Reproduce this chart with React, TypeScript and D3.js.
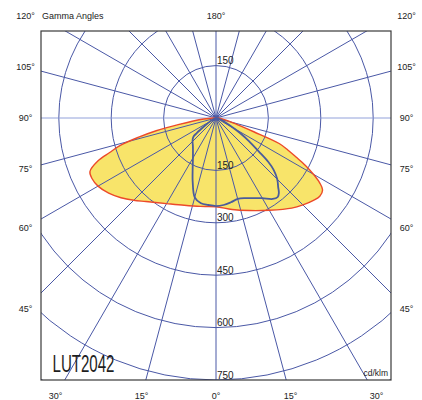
import React from "react";
import * as d3 from "d3";

// ---- data (cd/klm) ----
const yellowLeftGamma = [0, 10, 20, 30, 40, 45, 50, 55, 60, 64, 67, 70, 72, 74, 76, 78, 80, 85, 90];
const yellowLeftValue = [254, 257, 266, 283, 312, 333, 355, 375, 390, 395, 392, 360, 320, 285, 230, 175, 110, 35, 5];
const yellowRightGamma = [0, 10, 20, 30, 40, 45, 50, 53, 56, 58, 60, 62, 64, 66, 68, 70, 72, 75, 80, 85, 90];
const yellowRightValue = [254, 266, 282, 305, 337, 352, 366, 372, 368, 350, 322, 290, 255, 225, 195, 115, 75, 45, 22, 10, 3];
const blueLeftGamma = [0, 5, 10, 15, 20, 25, 30, 35, 40, 45, 50, 52, 55, 60, 65, 70, 80, 90];
const blueLeftValue = [252, 250, 248, 235, 195, 158, 132, 115, 103, 95, 85, 70, 40, 18, 8, 4, 1, 0];
const blueRightGamma = [0, 5, 10, 15, 20, 25, 30, 35, 38, 40, 42, 45, 48, 50, 52, 55, 58, 60, 65, 70, 75, 80, 90];
const blueRightValue = [252, 250, 245, 240, 244, 253, 265, 283, 287, 280, 266, 248, 222, 195, 155, 115, 80, 60, 30, 15, 8, 4, 0];

const ringValues = [150, 300, 450, 600, 750, 900];
const ringLabels = [150, 300, 450, 600, 750];
const sideAngles = [120, 105, 90, 75, 60, 45];
const bottomAngles = [-30, -15, 0, 15, 30];
const spokeAngles = d3.range(0, 360, 15);

const W = 422, H = 400;
const CX = 216, CY = 118;
const FX0 = 41, FY0 = 31, FX1 = 391, FY1 = 380;
const FONT = "'Liberation Sans', Arial, sans-serif";

const r = d3.scaleLinear().domain([0, 750]).range([0, 262]);

type P = { a: number; v: number };

function buildPoints(lg: number[], lv: number[], rg: number[], rv: number[]): P[] {
  const pts: P[] = [];
  for (let i = lg.length - 1; i >= 0; i--) pts.push({ a: Math.PI + (lg[i] * Math.PI) / 180, v: lv[i] });
  for (let i = 1; i < rg.length; i++) pts.push({ a: Math.PI - (rg[i] * Math.PI) / 180, v: rv[i] });
  return pts;
}

const radial = d3
  .lineRadial<P>()
  .angle((d) => d.a)
  .radius((d) => r(d.v))
  .curve(d3.curveCatmullRom.alpha(0.5));

export default function App() {
  const yellowPts = buildPoints(yellowLeftGamma, yellowLeftValue, yellowRightGamma, yellowRightValue);
  const bluePts = buildPoints(blueLeftGamma, blueLeftValue, blueRightGamma, blueRightValue);
  const yellowPath = (radial(yellowPts) || "") + "Z";
  const bluePath = (radial(bluePts) || "") + "Z";

  const far = 600;
  const sideD = 190.5;
  const bottomD = 278;

  return (
    <svg width={W} height={H} style={{ position: "absolute", left: 0, top: 0, background: "#fff" }}>
      <defs>
        <clipPath id="frameClip">
          <rect x={FX0} y={FY0} width={FX1 - FX0} height={FY1 - FY0} />
        </clipPath>
      </defs>
      <rect x={0} y={0} width={W} height={H} fill="#fff" />
      <g clipPath="url(#frameClip)">
        <path d={yellowPath} transform={`translate(${CX},${CY})`} fill="#f8e46a" stroke="none" />
        {ringValues.map((v) => (
          <circle key={v} cx={CX} cy={CY} r={r(v)} fill="none" stroke="#4a58a6" strokeWidth={1} />
        ))}
        {spokeAngles.map((a) => {
          const rad = (a * Math.PI) / 180;
          const horiz = a === 90 || a === 270;
          return (
            <line
              key={a}
              x1={CX}
              y1={CY}
              x2={CX + far * Math.sin(rad)}
              y2={CY + far * Math.cos(rad)}
              stroke={horiz ? "#8796d6" : "#4a58a6"}
              strokeWidth={horiz ? 0.9 : 1}
            />
          );
        })}
        <path d={yellowPath} transform={`translate(${CX},${CY})`} fill="none" stroke="#ec4a2a" strokeWidth={1.4} />
        <path d={bluePath} transform={`translate(${CX},${CY})`} fill="none" stroke="#4a5c9c" strokeWidth={1.8} />
      </g>
      <rect x={FX0} y={FY0} width={FX1 - FX0} height={FY1 - FY0} fill="none" stroke="#3a3a3a" strokeWidth={1.2} />

      {ringLabels.map((v) => (
        <text key={"rl" + v} x={CX + 1} y={CY + r(v) - 1.5} fontFamily={FONT} fontSize={10} fill="#222">
          {v}
        </text>
      ))}
      <text x={CX + 1} y={CY - r(ringLabels[0]) - 1.5} fontFamily={FONT} fontSize={10} fill="#222">
        {ringLabels[0]}
      </text>

      {sideAngles.map((g) => {
        const y = Math.max(16, CY + sideD / Math.tan((g * Math.PI) / 180)) + 3.3;
        return (
          <g key={"s" + g}>
            <text x={CX - sideD} y={y} textAnchor="middle" fontFamily={FONT} fontSize={9} fill="#222">{`${g}°`}</text>
            <text x={CX + sideD} y={y} textAnchor="middle" fontFamily={FONT} fontSize={9} fill="#222">{`${g}°`}</text>
          </g>
        );
      })}
      {bottomAngles.map((g) => (
        <text
          key={"b" + g}
          x={CX + bottomD * Math.tan((g * Math.PI) / 180)}
          y={399}
          textAnchor="middle"
          fontFamily={FONT}
          fontSize={9}
          fill="#222"
        >{`${Math.abs(g)}°`}</text>
      ))}
      <text x={CX} y={19.3} textAnchor="middle" fontFamily={FONT} fontSize={9} fill="#222">180°</text>
      <text x={42} y={19.3} fontFamily={FONT} fontSize={9} fill="#222">Gamma Angles</text>
      <text x={388} y={376} textAnchor="end" fontFamily={FONT} fontSize={8.5} fill="#222">cd/klm</text>
      <text
        x={52.5}
        y={371.5}
        fontFamily={FONT}
        fontSize={23}
        fill="#1e1e1e"
        textLength={62}
        lengthAdjust="spacingAndGlyphs"
      >
        LUT2042
      </text>
    </svg>
  );
}
